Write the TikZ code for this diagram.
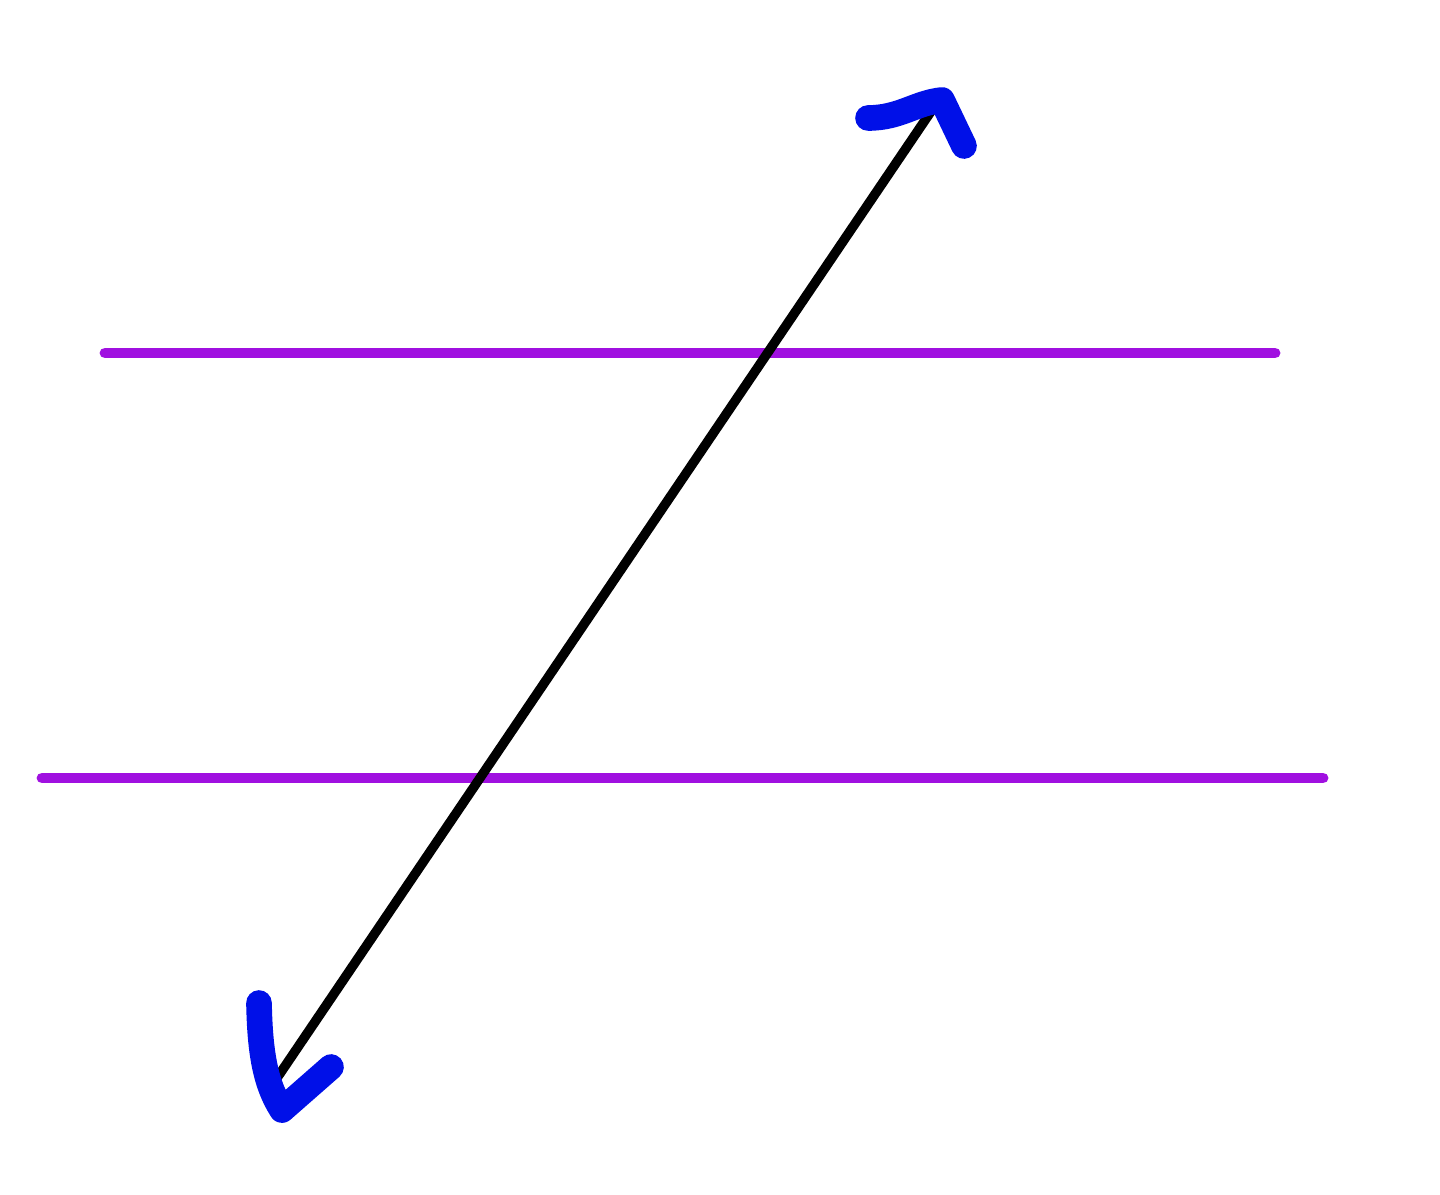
\documentclass[tikz,border=0pt]{standalone}
\begin{document}
\begin{tikzpicture}[x=0.01cm,y=-0.01cm,
  parallel/.style={draw=purplel, line width=3.1pt, line cap=round},
  transversal/.style={draw=black, line width=2.7pt},
  headstroke/.style={draw=bluepen, line width=7.3pt, line cap=round, line join=round}]
\definecolor{purplel}{HTML}{A010E0}
\definecolor{bluepen}{HTML}{0010E8}
\useasboundingbox (0,0) rectangle (1440,1195);
\coordinate (p1a) at (105,353);
\coordinate (p1b) at (1275,353);
\coordinate (p2a) at (42,778);
\coordinate (p2b) at (1323,778);
\coordinate (tTop) at (936,104);
\coordinate (tBot) at (277,1078);
\draw[parallel] (p1a) -- (p1b);
\draw[parallel] (p2a) -- (p2b);
\draw[transversal] (tBot) -- (tTop);
\coordinate (h1a) at (868,118);
\coordinate (h1b) at (942,100);
\coordinate (h1c) at (964,146);
\draw[headstroke] (h1a) .. controls (900,118) and (915,103) .. (h1b) -- (h1c);
\coordinate (h2a) at (259,1003);
\coordinate (h2b) at (282,1110);
\coordinate (h2c) at (331,1067);
\draw[headstroke] (h2a) .. controls (260,1055) and (266,1085) .. (h2b) -- (h2c);
\end{tikzpicture}
\end{document}
